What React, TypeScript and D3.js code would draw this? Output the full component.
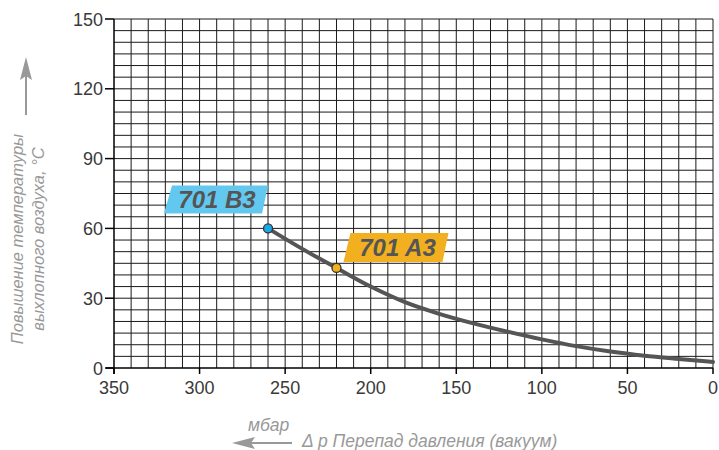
import React from "react";
import * as d3 from "d3";

const pressure = [260, 240, 220, 200, 180, 160, 140, 120, 100, 80, 60, 40, 20, 0];
const tempRise = [60, 51.2, 43, 35, 28.3, 23.3, 19.2, 15.6, 12.3, 9.4, 7.1, 5.3, 3.9, 2.6];

const xTicks = [350, 300, 250, 200, 150, 100, 50, 0];
const yTicks = [0, 30, 60, 90, 120, 150];

const models = ["701 B3", "701 A3"];
const modelPressure = [260, 220];
const modelTemp = [60, 43];
const modelFill = ["#62c8f0", "#f2b020"];
const modelDot = ["#1aa8e6", "#f0b020"];

const W = 719;
const H = 450;

export default function App() {
  const x = d3.scaleLinear().domain([350, 0]).range([114, 713]);
  const y = d3.scaleLinear().domain([0, 150]).range([368, 19]);

  const vGrid = d3.range(340, -1, -10);
  const hGrid = d3.range(5, 151, 5);

  const line = d3
    .line<number>()
    .x((_, i) => x(pressure[i]))
    .y((d) => y(d))
    .curve(d3.curveMonotoneX);

  const tickFont = "'Liberation Sans', Arial, sans-serif";

  return (
    <svg
      width={W}
      height={H}
      viewBox={`0 0 ${W} ${H}`}
      style={{ position: "absolute", left: 0, top: 0, background: "#fff" }}
    >
      {/* grid */}
      <g stroke="#1a1a1a" strokeWidth={1}>
        {vGrid.map((v) => (
          <line key={"v" + v} x1={x(v)} x2={x(v)} y1={y(150)} y2={y(0)} />
        ))}
        {hGrid.map((v) => (
          <line key={"h" + v} x1={x(350)} x2={x(0)} y1={y(v)} y2={y(v)} />
        ))}
      </g>
      {/* axes */}
      <g stroke="#000" strokeWidth={1.5}>
        <line x1={x(350)} x2={x(350)} y1={y(150)} y2={y(0) + 6} />
        <line x1={x(350) - 8} x2={x(0)} y1={y(0)} y2={y(0)} />
        {yTicks.map((t) => (
          <line key={"yt" + t} x1={x(350) - 9} x2={x(350)} y1={y(t)} y2={y(t)} />
        ))}
        {xTicks.map((t) => (
          <line key={"xt" + t} x1={x(t)} x2={x(t)} y1={y(0)} y2={y(0) + 6} />
        ))}
      </g>
      {/* tick labels */}
      <g fontFamily={tickFont} fontSize={18} fill="#3a3a3a">
        {yTicks.map((t) => (
          <text key={"yl" + t} x={x(350) - 11} y={y(t) + 6.5} textAnchor="end">
            {t}
          </text>
        ))}
        {xTicks.map((t) => (
          <text key={"xl" + t} x={x(t)} y={y(0) + 26} textAnchor="middle">
            {t}
          </text>
        ))}
      </g>
      {/* curve */}
      <path d={line(tempRise) || ""} fill="none" stroke="#555" strokeWidth={4} strokeLinecap="round" />
      {/* model markers and labels */}
      {models.map((m, i) => {
        const px = x(modelPressure[i]);
        const py = y(modelTemp[i]);
        let pts: [number, number][];
        let tx: number;
        let ty: number;
        if (i === 0) {
          const br: [number, number] = [px - 6, py - 15];
          pts = [
            [br[0] - 98, br[1]],
            [br[0] - 90, br[1] - 28],
            [br[0] + 6, br[1] - 28],
            br,
          ];
          tx = br[0] - 45;
          ty = br[1] - 5.5;
        } else {
          const bl: [number, number] = [px + 7, py - 6];
          pts = [
            bl,
            [bl[0] + 7, bl[1] - 29],
            [bl[0] + 105, bl[1] - 29],
            [bl[0] + 99, bl[1]],
          ];
          tx = bl[0] + 54;
          ty = bl[1] - 6;
        }
        return (
          <g key={m}>
            <polygon points={pts.map((p) => p.join(",")).join(" ")} fill={modelFill[i]} />
            <text
              x={tx}
              y={ty}
              textAnchor="middle"
              fontFamily={tickFont}
              fontWeight="bold"
              fontStyle="italic"
              fontSize={24}
              fill="#555"
            >
              {m}
            </text>
          </g>
        );
      })}
      {models.map((m, i) => (
        <circle
          key={"c" + m}
          cx={x(modelPressure[i])}
          cy={y(modelTemp[i])}
          r={4.5}
          fill={modelDot[i]}
          stroke="#333"
          strokeWidth={1.3}
        />
      ))}
      {/* y axis title */}
      <g fill="#999" stroke="#999">
        <line x1={26} x2={26} y1={115} y2={72} strokeWidth={2} />
        <polygon points="26,57 20,80 26,76 32,80" stroke="none" />
      </g>
      <g
        transform="translate(0,239) rotate(-90)"
        fontFamily={tickFont}
        fontStyle="italic"
        fontSize={16.5}
        fill="#999"
        textAnchor="middle"
      >
        <text x={0} y={23}>Повышение температуры</text>
        <text x={0} y={44}>выхлопного воздуха, °C</text>
      </g>
      {/* x axis title */}
      <g fontFamily={tickFont} fontStyle="italic" fontSize={17.5} fill="#999">
        <text x={248} y={431}>мбар</text>
        <text x={302} y={447}>Δ p Перепад давления (вакуум)</text>
      </g>
      <g fill="#999" stroke="#999">
        <line x1={292} x2={248} y1={443} y2={443} strokeWidth={2} />
        <polygon points="232,443 255,437 251,443 255,449" stroke="none" />
      </g>
    </svg>
  );
}
